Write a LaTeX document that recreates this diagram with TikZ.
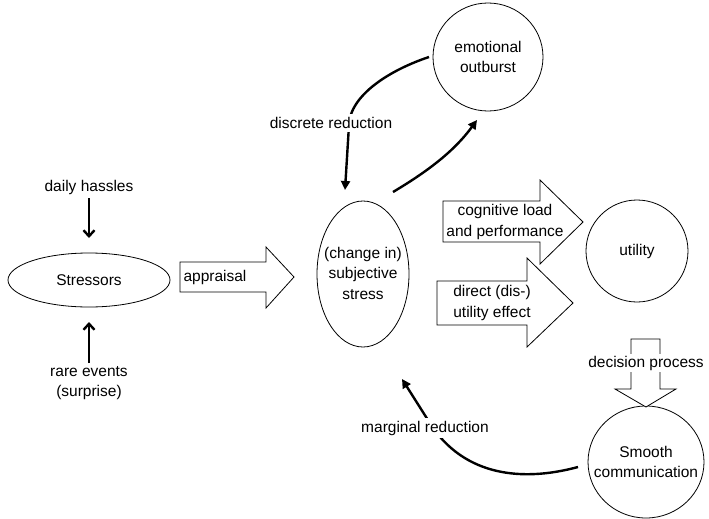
\documentclass[tikz,border=0pt]{standalone}
\usepackage{fontspec}
\setmainfont{Liberation Sans}
\usetikzlibrary{arrows.meta}
\begin{document}
\begin{tikzpicture}[x=1pt,y={(0pt,-1pt)},
  lbl/.style={font=\fontsize{15.5}{20.5}\selectfont, align=center, inner sep=1pt},
  shp/.style={draw, line width=0.8pt},
  blk/.style={draw, line width=0.8pt, fill=white},
  con/.style={line width=2.4pt, -{Triangle[length=9pt,width=9pt]}},
  plain/.style={line width=2.4pt},
  vbar/.style={line width=2.4pt, -{Straight Barb[length=6pt,width=11pt,line width=2.4pt]}}
]
\useasboundingbox (0,0) rectangle (709,519);

% ellipses / circles
\draw[shp] (89,280) ellipse [x radius=81, y radius=27];
\node[lbl] (stressors) at (89,280) {Stressors};
\coordinate (stressorsN) at (89,238);
\coordinate (stressorsS) at (89,322);

\draw[shp] (363,274) ellipse [x radius=46, y radius=73];
\node[lbl] (stress) at (363,273) {(change in)\\subjective\\stress};

\draw[shp] (488,57) ellipse [x radius=55, y radius=54];
\node[lbl] (outburst) at (488,57) {emotional\\outburst};

\draw[shp] (637,251) ellipse [x radius=51, y radius=51];
\node[lbl] (utility) at (637,251) {utility};

\draw[shp] (646,462) ellipse [x radius=58, y radius=56];
\node[lbl] (smooth) at (646,462) {Smooth\\communication};

% block arrows
\draw[blk] (180,262) -- (266,262) -- (266,247) -- (294,277) -- (266,308) -- (266,292) -- (180,292) -- cycle;
\node[lbl] (appraisal) at (215,277) {appraisal};

\draw[blk] (443,201) -- (540,201) -- (540,180) -- (583,222) -- (540,264) -- (540,242) -- (443,242) -- cycle;
\node[lbl] (cog) at (505,222) {cognitive load\\and performance};

\draw[blk] (437,281) -- (527,281) -- (527,258) -- (573,303) -- (527,347) -- (527,325) -- (437,325) -- cycle;
\node[lbl] (direct) at (492,303) {direct (dis-)\\utility effect};

\draw[blk] (631,378) -- (631,339) -- (660,339) -- (660,389) -- (676,389) -- (646,407) -- (615,389) -- (631,389) -- cycle;
\node[lbl, fill=white, inner sep=2pt] (decision) at (646,363) {decision process};

% labels for stressors
\node[lbl] (hassles) at (89,187) {daily hassles};
\node[lbl] (rare) at (89,383) {rare events\\(surprise)};

\draw[vbar] (hassles.south) ++(0,3) coordinate (h0) (h0) -- (stressorsN);
\draw[vbar] (89,363) coordinate (r0) -- (stressorsS);

% discrete reduction
\coordinate (o1) at (429,57);
\coordinate (s1) at (345,190);
\draw[plain] (o1) .. controls (390,70) and (350,95) .. (349,125);
\draw[con] (349,125) -- (s1);
\node[lbl, fill=white, inner sep=3pt] (discrete) at (331,123) {discrete reduction};

% stress to outburst
\coordinate (s2) at (393,192);
\coordinate (o2) at (477,120);
\draw[con] (s2) .. controls (430,170) and (455,150) .. (o2);

% marginal reduction
\coordinate (m1) at (578,467);
\coordinate (s3) at (402,379);
\draw[plain] (m1) .. controls (530,480) and (470,480) .. (433,428);
\draw[con] (433,428) -- (s3);
\node[lbl, fill=white, inner sep=3pt] (marginal) at (425,428) {marginal reduction};
\end{tikzpicture}
\end{document}
